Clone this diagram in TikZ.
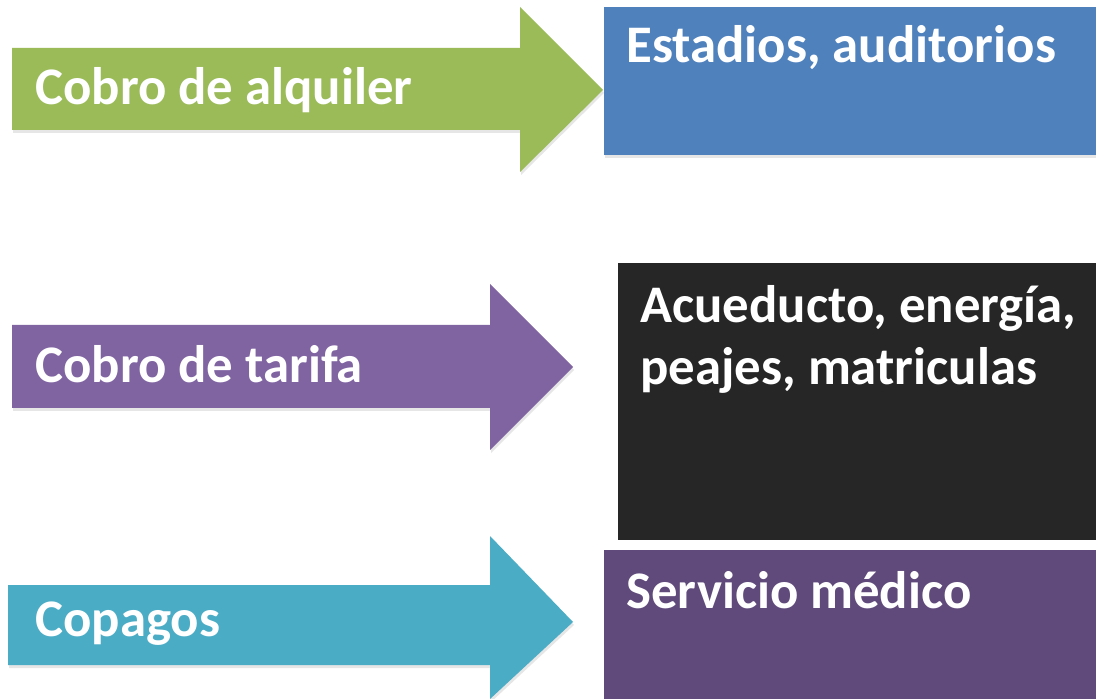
\documentclass[tikz,border=0pt]{standalone}
\usepackage{fontspec}
\setmainfont{Carlito}
\usetikzlibrary{shadows}

\definecolor{verde}{HTML}{9BBB59}
\definecolor{lila}{HTML}{8064A2}
\definecolor{turquesa}{HTML}{4BACC6}
\definecolor{azul}{HTML}{4F81BD}
\definecolor{negro}{HTML}{262626}
\definecolor{morado}{HTML}{604A7B}

\tikzset{
  sombra/.style={drop shadow={opacity=0.2,shadow xshift=0.5pt,shadow yshift=-1.5pt}},
  rotulo/.style={anchor=base west,text=white,font=\fontsize{26.4}{31}\selectfont\bfseries,inner sep=0pt,align=left}
}

\begin{document}
\begin{tikzpicture}[x=0.5pt,y=-0.5pt]
  \useasboundingbox (0,0) rectangle (1096,699);
  % flechas
  \path[sombra,fill=verde] (12,48) -- (520,48) -- (520,7) -- (603,90) -- (520,172) -- (520,130) -- (12,130) -- cycle;
  \path[sombra,fill=lila] (12,325) -- (490,325) -- (490,284) -- (573,367) -- (490,450) -- (490,408) -- (12,408) -- cycle;
  \path[sombra,fill=turquesa] (8,585) -- (490,585) -- (490,536) -- (573,622) -- (490,699) -- (490,665) -- (8,665) -- cycle;
  % cajas
  \path[sombra,fill=azul] (604,7) rectangle (1096,155);
  \path[fill=negro] (618,263) rectangle (1096,540);
  \path[fill=morado] (604,550) rectangle (1096,699);

  \node[rotulo] (alquiler) at (35,105) {Cobro de alquiler};
  \node[rotulo] (tarifa) at (35,383) {Cobro de tarifa};
  \node[rotulo] (copagos) at (35,636) {Copagos};
  \node[rotulo] (estadios) at (626,63) {Estadios, auditorios};
  \node[rotulo] (acueducto) at (640,323) {Acueducto, energía,};
  \node[rotulo] (peajes) at (640,385) {peajes, matriculas};
  \node[rotulo] (medico) at (626,608) {Servicio médico};
\end{tikzpicture}
\end{document}
